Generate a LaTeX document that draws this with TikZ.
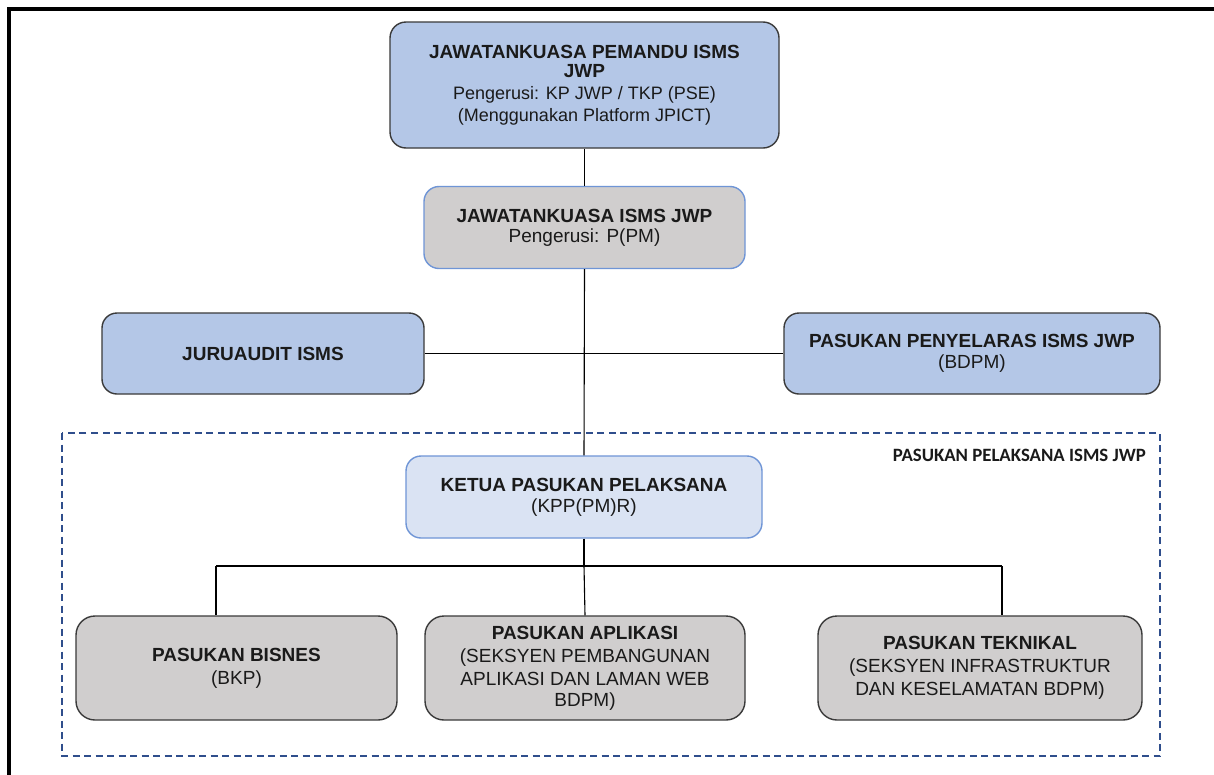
\documentclass[tikz,border=0pt]{standalone}
\usepackage{fontspec}
\setmainfont{Liberation Sans}
\newfontfamily\calib{Carlito}
\definecolor{ltblue}{HTML}{B4C7E7}
\definecolor{paleblue}{HTML}{DAE3F3}
\definecolor{grayfill}{HTML}{D0CECE}
\definecolor{bluebord}{HTML}{6F95D6}
\definecolor{darkbord}{HTML}{3A3A3A}
\definecolor{dashblue}{HTML}{2F4E8C}
\definecolor{txt}{HTML}{1A1A1A}
\begin{document}
\begin{tikzpicture}[x=1pt,y=-1pt,
  box/.style={rectangle, rounded corners=15pt, line width=1.4pt, align=center, text=txt, inner sep=2pt,
    font=\fontsize{19}{23}\selectfont},
  darkbox/.style={box, draw=darkbord},
  bluebox/.style={box, draw=bluebord},
  conn/.style={draw=black, line width=1.1pt}
]
\useasboundingbox (0,0) rectangle (1214,774);
\fill[white] (0,0) rectangle (1214,774);
% outer frame
\draw[line width=4pt, black] (9,790) -- (9,9) -- (1230,9);
% dashed group
\draw[dashblue, line width=1.6pt, dash pattern=on 7pt off 4.5pt] (62,433) rectangle (1160,756);
\node[anchor=east, text=txt, font=\calib\bfseries\fontsize{18.8}{20}\selectfont, inner sep=0pt] (grp) at (1146,455) {PASUKAN PELAKSANA ISMS JWP};

\node[darkbox, fill=ltblue, minimum width=389pt, minimum height=126pt, rounded corners=16pt] (top) at (584.5,85)
 {\textbf{JAWATANKUASA PEMANDU ISMS}\\[-4.5pt]\textbf{JWP}\\[-1pt]
  {\fontsize{18}{22}\selectfont Pengerusi: KP JWP / TKP (PSE)}\\[-1pt]
  {\fontsize{18}{22}\selectfont (Menggunakan Platform JPICT)}};

\node[bluebox, fill=grayfill, minimum width=321pt, minimum height=82pt] (jk) at (584.5,227.5)
 {\textbf{JAWATANKUASA ISMS JWP}\\[-3pt] Pengerusi: P(PM)};

\node[darkbox, fill=ltblue, minimum width=322pt, minimum height=81pt] (audit) at (263,353.5)
 {\textbf{JURUAUDIT ISMS}};

\node[darkbox, fill=ltblue, minimum width=376pt, minimum height=81pt] (sel) at (972,353.5)
 {\textbf{PASUKAN PENYELARAS ISMS JWP}\\[-2pt](BDPM)};

\node[bluebox, fill=paleblue, minimum width=356pt, minimum height=82pt] (ketua) at (584,497)
 {\textbf{KETUA PASUKAN PELAKSANA}\\[-2pt](KPP(PM)R)};

\node[darkbox, fill=grayfill, minimum width=321pt, minimum height=104pt, rounded corners=19pt] (bisnes) at (236.5,668)
 {\textbf{PASUKAN BISNES}\\[0pt](BKP)};

\node[darkbox, fill=grayfill, minimum width=320pt, minimum height=104pt, rounded corners=19pt, inner sep=0pt] (apl) at (585,668)
 {\textbf{PASUKAN APLIKASI}\\(SEKSYEN PEMBANGUNAN\\APLIKASI DAN LAMAN WEB\\[-2pt]BDPM)};

\node[darkbox, fill=grayfill, minimum width=324pt, minimum height=104pt, rounded corners=19pt] (tek) at (980,668)
 {\textbf{PASUKAN TEKNIKAL}\\(SEKSYEN INFRASTRUKTUR\\DAN KESELAMATAN BDPM)};

% connectors
\draw[conn] (top.south) -- (jk.north);
\draw[conn] (jk.south) -- (ketua.north);
\draw[conn] (audit.east) -- (sel.west);
\coordinate (mid) at (584,566);
\coordinate (bj) at (216,566);
\coordinate (tj) at (1002,566);
\draw[conn] (ketua.south) -- (mid);
\draw[conn] (bj) -- (tj);
\draw[conn] (bj) -- (bj |- bisnes.north);
\draw[conn] (mid) -- (apl.north);
\draw[conn] (tj) -- (tj |- tek.north);
\end{tikzpicture}
\end{document}
